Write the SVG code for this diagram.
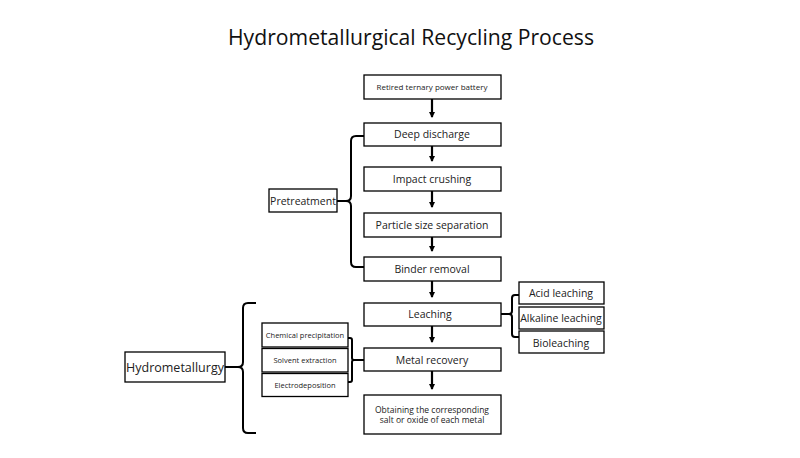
<svg xmlns="http://www.w3.org/2000/svg" width="800" height="458" viewBox="0 0 800 458">
<defs>
<marker id="ah" markerWidth="6" markerHeight="6" refX="5" refY="3" orient="auto" markerUnits="userSpaceOnUse">
<path d="M0,0 L6,3 L0,6 z" fill="#000"/>
</marker>
<style>
.box{fill:#fff;stroke:#000;stroke-width:1.3}
.t{font-family:"Open Sans","Noto Sans",sans-serif;fill:#222;text-anchor:middle}
.m{font-size:10.5px}
.s{font-size:7.5px}
.ln{fill:none;stroke:#000;stroke-width:2.2}
.br{fill:none;stroke:#000;stroke-width:2}
</style>
</defs>
<rect width="800" height="458" fill="#fff"/>
<text x="411" y="45" class="t" style="font-size:21px;fill:#111" textLength="366" lengthAdjust="spacingAndGlyphs">Hydrometallurgical Recycling Process</text>

<g id="n1"><rect class="box" x="364" y="75" width="137" height="24"/><text class="t" x="432" y="90" style="font-size:8px">Retired ternary power battery</text></g>
<g id="n2"><rect class="box" x="364" y="123" width="137" height="23"/><text class="t m" x="432" y="138">Deep discharge</text></g>
<g id="n3"><rect class="box" x="364" y="167" width="137" height="24"/><text class="t m" x="432" y="183">Impact crushing</text></g>
<g id="n4"><rect class="box" x="364" y="213" width="137" height="24"/><text class="t m" x="432" y="229">Particle size separation</text></g>
<g id="n5"><rect class="box" x="364" y="257" width="137" height="24"/><text class="t m" x="432" y="273">Binder removal</text></g>
<g id="n6"><rect class="box" x="364" y="303" width="137" height="23"/><text class="t m" x="430" y="318">Leaching</text></g>
<g id="n7"><rect class="box" x="364" y="348" width="137" height="23"/><text class="t m" x="432" y="364">Metal recovery</text></g>
<g id="n8"><rect class="box" x="364" y="395" width="137" height="39"/><text class="t" style="font-size:8.5px" x="432" y="413">Obtaining the corresponding</text><text class="t" style="font-size:8.5px" x="432" y="423">salt or oxide of each metal</text></g>

<g id="pre"><rect class="box" x="269" y="189" width="68" height="23"/><text class="t m" x="303" y="205">Pretreatment</text></g>
<g id="hyd"><rect class="box" x="125" y="352" width="100" height="30"/><text class="t" style="font-size:12.5px" x="175" y="372">Hydrometallurgy</text></g>

<g id="acid"><rect class="box" x="519" y="282" width="85" height="22"/><text class="t m" x="561" y="297">Acid leaching</text></g>
<g id="alk"><rect class="box" x="519" y="307" width="85" height="22"/><text class="t m" x="561" y="322">Alkaline leaching</text></g>
<g id="bio"><rect class="box" x="519" y="331" width="85" height="22"/><text class="t m" x="561" y="347">Bioleaching</text></g>

<g id="chem"><rect class="box" x="262" y="323" width="86" height="24"/><text class="t s" x="305" y="338">Chemical precipitation</text></g>
<g id="solv"><rect class="box" x="262" y="348.5" width="86" height="23.5"/><text class="t s" x="305" y="363">Solvent extraction</text></g>
<g id="elec"><rect class="box" x="262" y="373.5" width="86" height="23"/><text class="t s" x="305" y="388">Electrodeposition</text></g>

<g id="connectors">
<line class="ln" x1="432" y1="99" x2="432" y2="117" marker-end="url(#ah)"/>
<line class="ln" x1="432" y1="146" x2="432" y2="161" marker-end="url(#ah)"/>
<line class="ln" x1="432" y1="191" x2="432" y2="207" marker-end="url(#ah)"/>
<line class="ln" x1="432" y1="237" x2="432" y2="251" marker-end="url(#ah)"/>
<line class="ln" x1="432" y1="281" x2="432" y2="297" marker-end="url(#ah)"/>
<line class="ln" x1="432" y1="326" x2="432" y2="342" marker-end="url(#ah)"/>
<line class="ln" x1="432" y1="371" x2="432" y2="389" marker-end="url(#ah)"/>

<path class="br" d="M364,136 L356,136 Q351,136 351,141 L351,196 Q351,201 346,201 Q351,201 351,206 L351,262 Q351,267 356,267 L364,267"/>
<line class="br" x1="337" y1="201" x2="346" y2="201"/>

<path class="br" d="M519,295 L515,295 Q512,295 512,298 L512,311 Q512,314 509,314 Q512,314 512,317 L512,334 Q512,337 515,337 L519,337"/>
<line class="br" x1="501" y1="314" x2="509" y2="314"/>

<path class="br" d="M256,303 L248,303 Q243,303 243,308 L243,362 Q243,367 238,367 Q243,367 243,372 L243,428 Q243,433 248,433 L256,433"/>
<line class="br" x1="225" y1="367" x2="238" y2="367"/>

<path class="br" d="M348,338 L350,338 Q352,338 352,340 L352,358 Q352,360 354,360 Q352,360 352,362 L352,380 Q352,382 350,382 L348,382"/>
<line class="br" x1="354" y1="360" x2="364" y2="360"/>
</g>
</svg>
